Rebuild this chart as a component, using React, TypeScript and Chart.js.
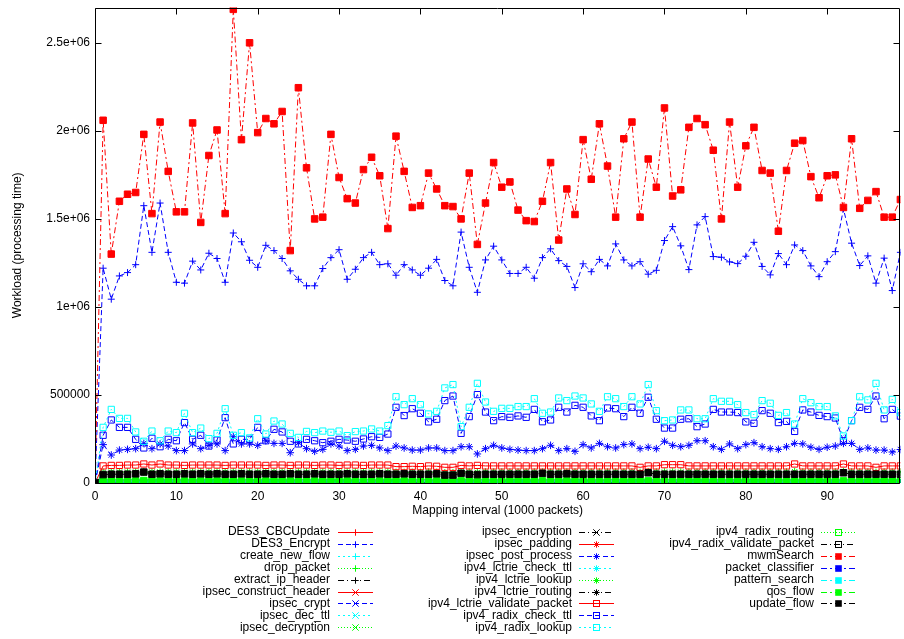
import React, { useEffect, useRef } from "react";
import { Chart, registerables } from "chart.js";

Chart.register(...registerables);

// Mapping interval (1000 packets)
const intervals = [
  0, 1, 2, 3, 4, 5, 6, 7, 8, 9, 10, 11, 12, 13, 14, 15, 16, 17, 18, 19,
  20, 21, 22, 23, 24, 25, 26, 27, 28, 29, 30, 31, 32, 33, 34, 35, 36, 37, 38, 39,
  40, 41, 42, 43, 44, 45, 46, 47, 48, 49, 50, 51, 52, 53, 54, 55, 56, 57, 58, 59,
  60, 61, 62, 63, 64, 65, 66, 67, 68, 69, 70, 71, 72, 73, 74, 75, 76, 77, 78, 79,
  80, 81, 82, 83, 84, 85, 86, 87, 88, 89, 90, 91, 92, 93, 94, 95, 96, 97, 98, 99,
];

const xTicks = [0, 10, 20, 30, 40, 50, 60, 70, 80, 90];
const yTicks = [0, 500000, 1000000, 1500000, 2000000, 2500000];

// values in thousands of processing-time units
const mwmSearch = [
  0, 2060, 1300, 1600, 1640, 1650, 1980, 1530, 2050, 1770,
  1540, 1540, 2045, 1480, 1860, 2005, 1530, 2690, 1950, 2500,
  1990, 2070, 2040, 2110, 1320, 2245, 1790, 1500, 1510, 1980,
  1735, 1615, 1590, 1780, 1850, 1745, 1445, 1970, 1770, 1565,
  1575, 1760, 1670, 1575, 1570, 1500, 1760, 1355, 1590, 1820,
  1680, 1710, 1550, 1490, 1485, 1600, 1820, 1380, 1670, 1525,
  1950, 1725, 2040, 1800, 1510, 1955, 2050, 1510, 1840, 1680,
  2130, 1630, 1665, 2020, 2070, 2035, 1890, 1500, 2050, 1680,
  1915, 2020, 1775, 1760, 1430, 1775, 1930, 1945, 1740, 1620,
  1745, 1750, 1565, 1955, 1560, 1605, 1655, 1510, 1510, 1610,
];

const des3Encrypt = [
  0, 1220, 1044, 1176, 1195, 1240, 1575, 1310, 1590, 1310,
  1140, 1135, 1260, 1210, 1305, 1275, 1140, 1420, 1370, 1265,
  1225, 1350, 1320, 1275, 1205, 1157, 1120, 1120, 1218, 1280,
  1325, 1157, 1214, 1280, 1310, 1240, 1245, 1180, 1240, 1210,
  1180, 1220, 1270, 1150, 1120, 1425, 1225, 1083, 1267, 1345,
  1267, 1190, 1190, 1225, 1163, 1280, 1330, 1263, 1230, 1110,
  1245, 1200, 1270, 1233, 1358, 1267, 1233, 1257, 1186, 1208,
  1377, 1456, 1347, 1212, 1466, 1513, 1286, 1282, 1256, 1246,
  1288, 1367, 1230, 1182, 1303, 1240, 1352, 1320, 1233, 1172,
  1257, 1314, 1557, 1362, 1235, 1290, 1135, 1277, 1093, 1310,
];

const ipv4RadixLookup = [
  0, 316, 418, 367, 367, 290, 237, 295, 240, 295,
  286, 396, 286, 312, 252, 282, 422, 271, 286, 256,
  365, 278, 352, 335, 282, 259, 293, 286, 295, 288,
  295, 269, 292, 295, 307, 295, 326, 490, 445, 479,
  445, 392, 407, 540, 559, 320, 430, 566, 460, 407,
  424, 424, 434, 434, 479, 396, 403, 483, 468, 494,
  483, 449, 407, 490, 479, 434, 490, 449, 559, 411,
  354, 358, 415, 415, 365, 365, 479, 464, 464, 445,
  400, 388, 468, 453, 384, 400, 335, 479, 456, 434,
  434, 381, 267, 354, 490, 472, 566, 415, 475, 400,
];

const ipv4RadixCheckTtl = [
  0, 271, 358, 316, 316, 248, 199, 254, 206, 248,
  240, 343, 248, 271, 210, 244, 371, 222, 248, 248,
  316, 240, 305, 290, 237, 222, 248, 240, 229, 237,
  248, 244, 237, 250, 263, 259, 278, 430, 383, 422,
  396, 347, 362, 468, 494, 282, 377, 502, 403, 354,
  377, 373, 381, 373, 418, 348, 358, 430, 403, 441,
  430, 381, 354, 426, 422, 377, 430, 396, 487, 362,
  312, 312, 362, 365, 320, 335, 418, 403, 403, 400,
  347, 339, 411, 396, 343, 350, 293, 415, 403, 384,
  377, 369, 240, 354, 430, 418, 494, 365, 418, 380,
];

const ipsecPostProcess = [
  0, 218, 159, 187, 191, 195, 225, 195, 222, 210,
  184, 184, 222, 195, 214, 222, 184, 263, 222, 222,
  214, 240, 225, 225, 172, 229, 195, 180, 191, 222,
  210, 184, 191, 210, 214, 199, 184, 210, 199, 187,
  187, 199, 199, 184, 184, 206, 206, 165, 195, 214,
  199, 191, 187, 184, 184, 195, 214, 184, 195, 180,
  218, 199, 225, 206, 199, 218, 222, 195, 203, 195,
  237, 214, 206, 214, 240, 240, 206, 191, 222, 195,
  218, 229, 206, 195, 191, 206, 225, 222, 203, 191,
  203, 210, 225, 225, 191, 199, 187, 187, 176, 190,
];

const ipv4LctrieValidatePacket = [
  0, 97, 100, 100, 102, 102, 108, 102, 108, 102,
  102, 100, 102, 102, 102, 102, 100, 102, 102, 102,
  102, 100, 102, 102, 100, 102, 102, 100, 102, 102,
  100, 102, 102, 100, 102, 102, 102, 93, 93, 95,
  93, 97, 95, 89, 89, 100, 97, 100, 97, 97,
  97, 97, 97, 97, 97, 97, 97, 97, 97, 97,
  97, 97, 97, 97, 97, 97, 97, 89, 97, 97,
  104, 104, 104, 97, 97, 97, 97, 97, 97, 97,
  97, 97, 97, 97, 97, 97, 108, 97, 97, 97,
  97, 97, 108, 97, 97, 97, 89, 97, 97, 97,
];

const updateFlow = [
  0, 48, 50, 50, 50, 52, 62, 50, 52, 50,
  50, 52, 50, 52, 50, 52, 50, 50, 52, 50,
  50, 52, 50, 50, 52, 50, 50, 52, 50, 50,
  50, 52, 50, 50, 50, 52, 50, 50, 52, 50,
  50, 50, 52, 45, 45, 55, 50, 48, 50, 50,
  50, 50, 50, 50, 50, 55, 50, 50, 52, 50,
  50, 50, 50, 50, 50, 50, 50, 50, 58, 50,
  50, 50, 50, 50, 50, 50, 50, 50, 50, 50,
  50, 50, 50, 50, 50, 50, 50, 50, 50, 50,
  50, 50, 58, 50, 50, 50, 50, 50, 50, 50,
];

const ipv4LctrieLookup = [
  0, 60, 62, 62, 62, 62, 64, 62, 62, 62,
  62, 62, 62, 62, 62, 62, 62, 62, 62, 62,
  62, 62, 62, 62, 62, 62, 62, 62, 62, 62,
  62, 62, 62, 62, 62, 62, 62, 60, 60, 60,
  60, 62, 60, 58, 58, 62, 62, 60, 62, 62,
  62, 62, 62, 62, 62, 62, 62, 62, 62, 62,
  62, 62, 62, 62, 62, 62, 62, 60, 64, 62,
  62, 62, 62, 62, 62, 62, 62, 62, 62, 62,
  62, 62, 62, 62, 62, 62, 64, 62, 62, 62,
  62, 62, 64, 62, 62, 62, 60, 62, 62, 62,
];

const qosFlow = [
  0, 12, 12, 12, 12, 12, 14, 12, 12, 12,
  12, 12, 12, 12, 12, 12, 12, 12, 12, 12,
  12, 12, 12, 12, 12, 12, 12, 12, 12, 12,
  12, 12, 12, 12, 12, 12, 12, 12, 12, 12,
  12, 12, 12, 12, 12, 12, 12, 12, 12, 12,
  12, 12, 12, 12, 12, 12, 12, 12, 12, 12,
  12, 12, 12, 12, 12, 12, 12, 12, 12, 12,
  12, 12, 12, 12, 12, 12, 12, 12, 12, 12,
  12, 12, 12, 12, 12, 12, 12, 12, 12, 12,
  12, 12, 12, 12, 12, 12, 12, 12, 12, 12,
];

// functions whose workload stays at the zero line
const zeroSeries = [
  0, 0, 0, 0, 0, 0, 0, 0, 0, 0,
  0, 0, 0, 0, 0, 0, 0, 0, 0, 0,
  0, 0, 0, 0, 0, 0, 0, 0, 0, 0,
  0, 0, 0, 0, 0, 0, 0, 0, 0, 0,
  0, 0, 0, 0, 0, 0, 0, 0, 0, 0,
  0, 0, 0, 0, 0, 0, 0, 0, 0, 0,
  0, 0, 0, 0, 0, 0, 0, 0, 0, 0,
  0, 0, 0, 0, 0, 0, 0, 0, 0, 0,
  0, 0, 0, 0, 0, 0, 0, 0, 0, 0,
  0, 0, 0, 0, 0, 0, 0, 0, 0, 0,
];

const RED = "#ff0000";
const BLUE = "#0000ff";
const CYAN = "#00ffff";
const GREEN = "#00ff00";
const BLACK = "#000000";

const SOLID: number[] = [];
const DASHED = [5, 3];
const DOTTED = [2, 3];
const FINE = [1, 2];
const DASHDOT = [6, 3, 1, 3];
const DASHDOT2 = [6, 3, 2, 3];

type Marker = "plus" | "x" | "star" | "box" | "fbox";
type Series = { name: string; data: number[]; color: string; dash: number[]; marker: Marker };

const series: Series[] = [
  { name: "DES3_CBCUpdate", data: zeroSeries, color: RED, dash: SOLID, marker: "plus" },
  { name: "DES3_Encrypt", data: des3Encrypt, color: BLUE, dash: DASHED, marker: "plus" },
  { name: "create_new_flow", data: zeroSeries, color: CYAN, dash: DOTTED, marker: "plus" },
  { name: "drop_packet", data: zeroSeries, color: GREEN, dash: FINE, marker: "plus" },
  { name: "extract_ip_header", data: zeroSeries, color: BLACK, dash: DASHDOT, marker: "plus" },
  { name: "ipsec_construct_header", data: zeroSeries, color: RED, dash: SOLID, marker: "x" },
  { name: "ipsec_crypt", data: zeroSeries, color: BLUE, dash: DASHED, marker: "x" },
  { name: "ipsec_dec_ttl", data: zeroSeries, color: CYAN, dash: DOTTED, marker: "x" },
  { name: "ipsec_decryption", data: zeroSeries, color: GREEN, dash: FINE, marker: "x" },
  { name: "ipsec_encryption", data: zeroSeries, color: BLACK, dash: DASHDOT, marker: "x" },
  { name: "ipsec_padding", data: zeroSeries, color: RED, dash: SOLID, marker: "star" },
  { name: "ipsec_post_process", data: ipsecPostProcess, color: BLUE, dash: DASHED, marker: "star" },
  { name: "ipv4_lctrie_check_ttl", data: zeroSeries, color: CYAN, dash: DOTTED, marker: "star" },
  { name: "ipv4_lctrie_lookup", data: ipv4LctrieLookup, color: GREEN, dash: FINE, marker: "star" },
  { name: "ipv4_lctrie_routing", data: zeroSeries, color: BLACK, dash: DASHDOT, marker: "star" },
  { name: "ipv4_lctrie_validate_packet", data: ipv4LctrieValidatePacket, color: RED, dash: SOLID, marker: "box" },
  { name: "ipv4_radix_check_ttl", data: ipv4RadixCheckTtl, color: BLUE, dash: DASHED, marker: "box" },
  { name: "ipv4_radix_lookup", data: ipv4RadixLookup, color: CYAN, dash: DOTTED, marker: "box" },
  { name: "ipv4_radix_routing", data: zeroSeries, color: GREEN, dash: FINE, marker: "box" },
  { name: "ipv4_radix_validate_packet", data: zeroSeries, color: BLACK, dash: DASHDOT, marker: "box" },
  { name: "mwmSearch", data: mwmSearch, color: RED, dash: DASHDOT2, marker: "fbox" },
  { name: "packet_classifier", data: zeroSeries, color: BLUE, dash: DASHDOT2, marker: "fbox" },
  { name: "pattern_search", data: zeroSeries, color: CYAN, dash: DASHDOT2, marker: "fbox" },
  { name: "qos_flow", data: qosFlow, color: GREEN, dash: DASHDOT2, marker: "fbox" },
  { name: "update_flow", data: updateFlow, color: BLACK, dash: DASHDOT2, marker: "fbox" },
];

const FONT = "'Liberation Sans', Arial, Helvetica, sans-serif";

function pointOpts(m: Marker, color: string) {
  switch (m) {
    case "plus":
      return { pointStyle: "cross", pointRadius: 3.5, pointBackgroundColor: color };
    case "x":
      return { pointStyle: "crossRot", pointRadius: 4.5, pointBackgroundColor: color };
    case "star":
      return { pointStyle: "star", pointRadius: 3.8, pointBackgroundColor: color };
    case "box":
      return { pointStyle: "rect", pointRadius: 4.4, pointBackgroundColor: "rgba(0,0,0,0)" };
    default:
      return { pointStyle: "rect", pointRadius: 4.6, pointBackgroundColor: color };
  }
}

function drawMarker(ctx: CanvasRenderingContext2D, m: Marker, x: number, y: number, color: string) {
  ctx.save();
  ctx.setLineDash([]);
  ctx.strokeStyle = color;
  ctx.fillStyle = color;
  ctx.lineWidth = 1;
  const r = 3.2;
  ctx.beginPath();
  if (m === "plus" || m === "star") {
    ctx.moveTo(x - r, y);
    ctx.lineTo(x + r, y);
    ctx.moveTo(x, y - r);
    ctx.lineTo(x, y + r);
  }
  if (m === "x" || m === "star") {
    const d = m === "star" ? r * 0.75 : r;
    ctx.moveTo(x - d, y - d);
    ctx.lineTo(x + d, y + d);
    ctx.moveTo(x - d, y + d);
    ctx.lineTo(x + d, y - d);
  }
  ctx.stroke();
  if (m === "box") ctx.strokeRect(x - 3, y - 3, 6, 6);
  if (m === "fbox") ctx.fillRect(x - 3.3, y - 3.3, 6.6, 6.6);
  ctx.restore();
}

const frameTickLen = 6;

const gnuplotDecor = {
  id: "gnuplotDecor",
  afterDatasetsDraw(chart: any) {
    const { ctx, chartArea } = chart;
    const xs = chart.scales.x;
    const ys = chart.scales.y;
    const L = Math.round(chartArea.left) + 0.5;
    const R = Math.round(chartArea.right) - 0.5;
    const T = Math.round(chartArea.top) + 0.5;
    const B = Math.round(chartArea.bottom) + 0.5;
    ctx.save();
    ctx.setLineDash([]);
    ctx.strokeStyle = "#000";
    ctx.lineWidth = 1;
    ctx.beginPath();
    ctx.rect(L, T, R - L, B - T);
    for (const v of yTicks) {
      const y = Math.round(ys.getPixelForValue(v)) + 0.5;
      ctx.moveTo(L, y);
      ctx.lineTo(L + frameTickLen, y);
      ctx.moveTo(R, y);
      ctx.lineTo(R - frameTickLen, y);
    }
    for (const v of xTicks) {
      const x = Math.round(xs.getPixelForValue(v)) + 0.5;
      ctx.moveTo(x, B);
      ctx.lineTo(x, B - frameTickLen);
      ctx.moveTo(x, T);
      ctx.lineTo(x, T + frameTickLen);
    }
    ctx.stroke();
    ctx.restore();
  },
  afterDraw(chart: any) {
    const { ctx, chartArea } = chart;
    ctx.save();
    ctx.fillStyle = "#000";
    ctx.font = `12px ${FONT}`;
    // axis titles
    ctx.textAlign = "center";
    ctx.textBaseline = "middle";
    ctx.fillText("Mapping interval (1000 packets)", (chartArea.left + chartArea.right) / 2, 511);
    ctx.save();
    ctx.translate(18, (chartArea.top + chartArea.bottom) / 2);
    ctx.rotate(-Math.PI / 2);
    ctx.fillText("Workload (processing time)", 0, 0);
    ctx.restore();

    // key, three columns
    const textRight = [330, 572, 814];
    const sampleStart = [338, 579, 821];
    const sampleLen = 35;
    const rowY0 = 532;
    const rowH = 11.9;
    series.forEach((s, i) => {
      const col = Math.floor(i / 9);
      const row = i % 9;
      const y = rowY0 + row * rowH;
      ctx.textAlign = "right";
      ctx.textBaseline = "middle";
      ctx.fillStyle = "#000";
      ctx.fillText(s.name, textRight[col], y);
      const yl = Math.round(y) + 0.5;
      ctx.save();
      ctx.strokeStyle = s.color;
      ctx.lineWidth = 1;
      ctx.setLineDash(s.dash);
      ctx.beginPath();
      ctx.moveTo(sampleStart[col], yl);
      ctx.lineTo(sampleStart[col] + sampleLen, yl);
      ctx.stroke();
      ctx.restore();
      drawMarker(ctx, s.marker, sampleStart[col] + sampleLen / 2, yl, s.color);
    });
    ctx.restore();
  },
};

function formatY(v: number): string {
  if (v === 0) return "0";
  if (v < 1000000) return String(v);
  return `${v / 1000000}e+06`;
}

export default function App() {
  const canvasRef = useRef<HTMLCanvasElement | null>(null);

  useEffect(() => {
    const canvas = canvasRef.current;
    if (!canvas) return;
    const n = series.length;
    const datasets = series.map((s, i) => ({
      label: s.name,
      data: intervals.map((x, k) => ({ x, y: s.data[k] * 1000 })),
      borderColor: s.color,
      borderWidth: 1,
      borderDash: s.dash,
      pointBorderColor: s.color,
      pointBorderWidth: 1,
      fill: false,
      tension: 0,
      order: n - i,
      ...pointOpts(s.marker, s.color),
    }));

    const chart = new Chart(canvas, {
      type: "line",
      data: { datasets } as any,
      plugins: [gnuplotDecor as any],
      options: {
        responsive: false,
        animation: false,
        devicePixelRatio: 1,
        layout: { padding: { top: 7.6, left: 0, right: 0, bottom: 0 } },
        plugins: {
          legend: { display: false },
          tooltip: { enabled: false },
        },
        scales: {
          x: {
            type: "linear",
            min: 0,
            max: 99,
            grid: { display: false, drawTicks: false },
            border: { display: false },
            ticks: {
              autoSkip: false,
              maxRotation: 0,
              padding: 6,
              color: "#000",
              font: { family: FONT, size: 12 },
            },
            afterBuildTicks: (s: any) => {
              s.ticks = xTicks.map((v) => ({ value: v }));
            },
            afterFit: (s: any) => {
              s.height = 156;
            },
          },
          y: {
            type: "linear",
            min: 0,
            max: 2700000,
            grid: { display: false, drawTicks: false },
            border: { display: false },
            ticks: {
              autoSkip: false,
              padding: 5,
              color: "#000",
              font: { family: FONT, size: 12, lineHeight: 0.1 },
              callback: (v: any) => formatY(Number(v)),
            },
            afterBuildTicks: (s: any) => {
              s.ticks = yTicks.map((v) => ({ value: v }));
            },
            afterFit: (s: any) => {
              s.width = 95;
            },
          },
        },
      } as any,
    });
    return () => chart.destroy();
  }, []);

  return (
    <div
      style={{
        position: "fixed",
        left: 0,
        top: 0,
        width: 904,
        height: 639,
        overflow: "hidden",
        background: "#fff",
      }}
    >
      <canvas ref={canvasRef} width={906} height={639} style={{ display: "block", width: 906, height: 639 }} />
    </div>
  );
}
